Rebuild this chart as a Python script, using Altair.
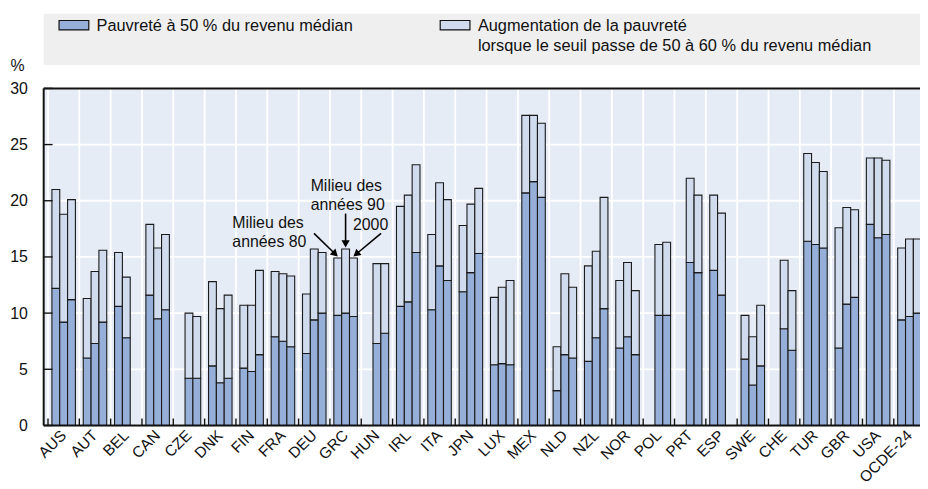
import math
import altair as alt
import pandas as pd

countries = ["AUS", "AUT", "BEL", "CAN", "CZE", "DNK", "FIN", "FRA", "DEU", "GRC",
             "HUN", "IRL", "ITA", "JPN", "LUX", "MEX", "NLD", "NZL", "NOR", "POL",
             "PRT", "ESP", "SWE", "CHE", "TUR", "GBR", "USA", "OCDE-24"]
periods = ["Milieu des années 80", "Milieu des années 90", "2000"]

# Poverty rate at 50% of median income (None = no data)
pov50_80 = [12.2, 6.0, 10.6, 11.6, None, 5.3, 5.1, 7.9, 6.4, 9.8,
            None, 10.6, 10.3, 11.9, 5.4, 20.7, 3.1, 5.7, 6.9, None,
            None, 13.8, 5.9, None, 16.4, 6.9, 17.9, 9.4]
pov50_90 = [9.2, 7.3, 7.8, 9.5, 4.2, 3.8, 4.8, 7.5, 9.4, 10.0,
            7.3, 11.0, 14.2, 13.6, 5.5, 21.7, 6.3, 7.8, 7.9, 9.8,
            14.5, 11.6, 3.6, 8.6, 16.1, 10.8, 16.7, 9.7]
pov50_00 = [11.2, 9.2, None, 10.3, 4.2, 4.2, 6.3, 7.0, 10.0, 9.7,
            8.2, 15.4, 12.9, 15.3, 5.4, 20.3, 6.0, 10.4, 6.3, 9.8,
            13.6, None, 5.3, 6.7, 15.8, 11.4, 17.0, 10.0]

# Poverty rate at 60% of median income (total bar height)
pov60_80 = [21.0, 11.3, 15.4, 17.9, None, 12.8, 10.7, 13.7, 11.7, 14.9,
            None, 19.5, 17.0, 17.8, 11.4, 27.6, 7.0, 14.2, 12.9, None,
            None, 20.5, 9.8, None, 24.2, 17.6, 23.8, 15.8]
pov60_90 = [18.8, 13.7, 13.2, 15.8, 10.0, 10.4, 10.7, 13.5, 15.7, 15.7,
            14.4, 20.5, 21.6, 19.7, 12.3, 27.6, 13.5, 15.5, 14.5, 16.1,
            22.0, 18.9, 7.9, 14.7, 23.4, 19.4, 23.8, 16.6]
pov60_00 = [20.1, 15.6, None, 17.0, 9.7, 11.6, 13.8, 13.3, 15.4, 14.9,
            14.4, 23.2, 20.1, 21.1, 12.9, 26.9, 12.3, 20.3, 12.0, 16.3,
            20.5, None, 10.7, 12.0, 22.6, 19.2, 23.6, 16.6]

series = ["Pauvreté à 50 % du revenu médian",
          "Augmentation de la pauvreté lorsque le seuil passe de 50 à 60 % du revenu médian"]
y_ticks = [0, 5, 10, 15, 20, 25, 30]

COL_BASE = "#96AFD8"
COL_TOP = "#D0DBED"
BG = "#E6ECF5"
FONT = "Liberation Sans"

rows = []
for p, a50, a60 in zip(periods, [pov50_80, pov50_90, pov50_00], [pov60_80, pov60_90, pov60_00]):
    for c, v50, v60 in zip(countries, a50, a60):
        if v50 is None:
            continue
        rows.append({"country": c, "period": p, "series": series[0], "value": v50, "ord": 0})
        rows.append({"country": c, "period": p, "series": series[1], "value": round(v60 - v50, 2), "ord": 1})
df = pd.DataFrame(rows)

W, H = 884, 340
STEP = 31.6
X0 = 4.35

x_scale = alt.Scale(domain=countries, range=[X0, X0 + STEP * len(countries)],
                    paddingInner=0, paddingOuter=0)
y_scale = alt.Scale(domain=[0, 30], nice=False)

x_enc = alt.X("country:N", sort=countries, scale=x_scale,
              axis=alt.Axis(title=None, labelAngle=-45, labelFontSize=15.5, labelColor="#111",
                            labelFont=FONT, ticks=False, domain=False, grid=False,
                            labelPadding=7))

bars = alt.Chart(df).mark_bar(stroke="#1a1a1a", strokeWidth=1.1).encode(
    x=x_enc,
    xOffset=alt.XOffset("period:N", sort=periods,
                        scale=alt.Scale(domain=periods, paddingInner=0, paddingOuter=0.5)),
    y=alt.Y("value:Q", stack="zero", scale=y_scale,
            axis=alt.Axis(values=y_ticks, title="%", titleAngle=0, titleX=-34, titleY=-23,
                          titleAlign="left", titleBaseline="middle", titleFontSize=16,
                          titleFontWeight="normal", titleFont=FONT, titleColor="#111",
                          labelFontSize=16, labelFont=FONT, labelColor="#111",
                          ticks=False, labelPadding=16.5, domain=False, grid=False)),
    color=alt.Color("series:N", scale=alt.Scale(domain=series, range=[COL_BASE, COL_TOP]),
                    legend=None),
    order=alt.Order("ord:Q"),
)

one = pd.DataFrame({"a": [0]})
cdf = pd.DataFrame({"country": countries})
ydf = pd.DataFrame({"v": y_ticks})

# plot background
bg = alt.Chart(one).mark_rect(color=BG).encode(
    x=alt.value(0), x2=alt.value(W + 20), y=alt.value(0), y2=alt.value(H))

# white grid lines (drawn beneath the bars)
vgrid = alt.Chart(cdf).mark_rule(color="white", strokeWidth=1.8).encode(
    x=alt.X("country:N", sort=countries, scale=x_scale, bandPosition=0))
hgrid = alt.Chart(ydf).mark_rule(color="white", strokeWidth=1.8).encode(
    y=alt.Y("v:Q", scale=y_scale))

# inward ticks
xticks = alt.Chart(cdf).mark_rule(color="#111", strokeWidth=1.4).encode(
    x=alt.X("country:N", sort=countries, scale=x_scale, bandPosition=0),
    y=alt.value(H - 7), y2=alt.value(H))
yticks = alt.Chart(ydf).mark_rule(color="#111", strokeWidth=1.4).encode(
    y=alt.Y("v:Q", scale=y_scale), x=alt.value(0), x2=alt.value(9))

frame_h = alt.Chart(pd.DataFrame({"v": [0, 30]})).mark_rule(color="#111", strokeWidth=2).encode(
    y=alt.Y("v:Q", scale=y_scale))
frame_v = alt.Chart(pd.DataFrame({"v": [0]})).mark_rule(color="#111", strokeWidth=2).encode(
    x=alt.value(0), y=alt.value(0), y2=alt.value(H))

layers = [bg, vgrid, hgrid, bars, xticks, yticks, frame_h, frame_v]

# Annotation: arrows to the GRC bars
def arrow(tail, tip):
    dx, dy = tip[0] - tail[0], tip[1] - tail[1]
    L = math.hypot(dx, dy)
    ux, uy = dx / L, dy / L
    ang = math.degrees(math.atan2(dx, -dy)) % 360
    shaft = alt.Chart(one).mark_rule(color="black", strokeWidth=1.6).encode(
        x=alt.value(tail[0]), x2=alt.value(tip[0] - ux * 5),
        y=alt.value(tail[1]), y2=alt.value(tip[1] - uy * 5))
    head = alt.Chart(one).mark_point(shape="triangle", filled=True, size=70, opacity=1,
                                     color="black", angle=ang).encode(
        x=alt.value(tip[0] - ux * 4.8), y=alt.value(tip[1] - uy * 4.8))
    return [shaft, head]

layers += arrow((272.7, 146.3), (296.6, 169.5))
layers += arrow((304.55, 126.3), (304.55, 160.5))
layers += arrow((340.3, 146.3), (312.45, 169.5))

def text(t, x, y, align="left", baseline="alphabetic", size=16, lh=19):
    return alt.Chart(one).mark_text(text=t, align=align, baseline=baseline, fontSize=size,
                                    font=FONT, color="#111", lineBreak="\n",
                                    lineHeight=lh).encode(
        x=alt.value(x), y=alt.value(y))

layers.append(text("Milieu des\nannées 80", 190.3, 141.3, lh=18.5))
layers.append(text("Milieu des\nannées 90", 269.3, 103, lh=19.5))
layers.append(text("2000", 312, 143))

# Legend band
layers.append(alt.Chart(one).mark_rect(color="#EFEFEF").encode(
    x=alt.value(0), x2=alt.value(900), y=alt.value(-75.3), y2=alt.value(-23.7)))
layers.append(alt.Chart(one).mark_rect(color=COL_BASE, stroke="#111", strokeWidth=1.2).encode(
    x=alt.value(15.5), x2=alt.value(45.5), y=alt.value(-68.5), y2=alt.value(-59)))
layers.append(alt.Chart(one).mark_rect(color=COL_TOP, stroke="#111", strokeWidth=1.2).encode(
    x=alt.value(400), x2=alt.value(430), y=alt.value(-68.5), y2=alt.value(-59)))
layers.append(text("Pauvreté à 50 % du revenu médian", 53.3, -63, baseline="middle", size=16.5))
layers.append(text("Augmentation de la pauvreté\nlorsque le seuil passe de 50 à 60 % du revenu médian",
                   438, -63, baseline="middle", size=16.5, lh=20))

chart = alt.layer(*layers).properties(
    width=W, height=H,
    autosize=alt.AutoSizeParams(type="none"),
    padding={"left": 36, "top": 79, "right": 0, "bottom": 62},
).configure_view(stroke=None, fill=BG).configure(font=FONT, background="white")

chart.save("out.html", embed_options={"renderer": "svg", "actions": False})
